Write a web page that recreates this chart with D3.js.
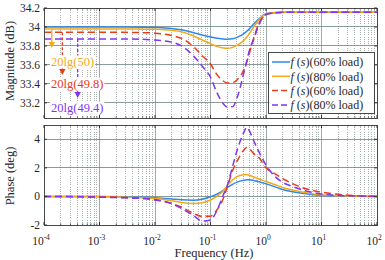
<!DOCTYPE html>
<html><head><meta charset="utf-8">
<script src="https://cdn.jsdelivr.net/npm/d3@7"></script>
<style>
body{margin:0;background:#fff}
svg{display:block}
svg text{font-family:"Times New Roman","Liberation Serif","DejaVu Serif",serif}
</style>
</head><body>
<svg id="c" width="385" height="260"></svg>
<script>
// ---------------- DATA ----------------
const freqs = [0.0001, 0.001, 0.003, 0.006, 0.01, 0.02, 0.03, 0.05, 0.07, 0.1, 0.13, 0.17, 0.2, 0.25, 0.3, 0.4, 0.45, 0.5, 0.6, 0.75, 1, 1.5, 2, 3, 5, 8, 15, 100];

const magBlue60   = [34.0, 34.0, 34.0, 33.998, 33.995, 33.985, 33.97, 33.94, 33.915, 33.895, 33.882, 33.872, 33.87, 33.875, 33.89, 33.93, 33.955, 33.98, 34.03, 34.085, 34.14, 34.152, 34.154, 34.155, 34.155, 34.155, 34.155, 34.155];
const magOrange80 = [33.979, 33.979, 33.979, 33.977, 33.975, 33.965, 33.95, 33.905, 33.865, 33.825, 33.795, 33.778, 33.775, 33.785, 33.805, 33.86, 33.895, 33.93, 34.0, 34.075, 34.135, 34.15, 34.154, 34.155, 34.155, 34.155, 34.155, 34.155];
const magRed60    = [33.944, 33.944, 33.943, 33.94, 33.935, 33.91, 33.88, 33.79, 33.70, 33.61, 33.5, 33.43, 33.41, 33.412, 33.44, 33.55, 33.63, 33.72, 33.88, 34.04, 34.13, 34.15, 34.154, 34.155, 34.155, 34.155, 34.155, 34.155];
const magPurple80 = [33.874, 33.874, 33.873, 33.87, 33.862, 33.84, 33.80, 33.69, 33.59, 33.47, 33.31, 33.19, 33.155, 33.16, 33.25, 33.52, 33.64, 33.75, 33.87, 34.03, 34.13, 34.15, 34.154, 34.155, 34.155, 34.155, 34.155, 34.155];

const phBlue60   = [0, 0, -0.02, -0.05, -0.09, -0.18, -0.24, -0.27, -0.2, -0.02, 0.15, 0.42, 0.62, 0.85, 1.0, 1.13, 1.16, 1.16, 1.12, 1.03, 0.88, 0.65, 0.48, 0.33, 0.2, 0.1, 0.04, 0];
const phOrange80 = [0, -0.02, -0.05, -0.1, -0.15, -0.3, -0.42, -0.5, -0.45, -0.25, 0.0, 0.4, 0.75, 1.15, 1.38, 1.52, 1.54, 1.48, 1.36, 1.22, 1.05, 0.8, 0.63, 0.45, 0.28, 0.15, 0.07, 0];
const phRed60    = [0, -0.03, -0.08, -0.14, -0.22, -0.5, -0.75, -1.2, -1.4, -1.38, -0.95, -0.15, 0.65, 1.8, 2.45, 3.25, 3.42, 3.35, 3.0, 2.7, 2.0, 1.55, 1.25, 0.9, 0.55, 0.37, 0.2, 0];
const phPurple80 = [0, -0.05, -0.1, -0.15, -0.25, -0.5, -0.85, -1.35, -1.72, -1.65, -1.0, 0.1, 0.75, 2.1, 3.2, 4.5, 4.85, 4.6, 3.9, 3.1, 2.2, 1.35, 0.98, 0.7, 0.4, 0.23, 0.1, 0];

const legendLoads = ["60% load", "80% load", "60% load", "80% load"];
const magTicks = [33.2, 33.4, 33.6, 33.8, 34, 34.2];
const magTickLabels = ["33.2", "33.4", "33.6", "33.8", "34", "34.2"];
const phaseTicks = [-2, 0, 2, 4];
const phaseTickLabels = ["-2", "0", "2", "4"];
const decadeTicks = [1e-4, 1e-3, 1e-2, 1e-1, 1e0, 1e1, 1e2];
const decadeExps = ["-4", "-3", "-2", "-1", "0", "1", "2"];
const annLabels = ["20lg(50)", "20lg(49.8)", "20lg(49.4)"];
const annLevels = [33.979, 33.944, 33.874];

// ---------------- STYLE / LAYOUT ----------------
const colors = ["#2f88ea", "#f2ab18", "#e63c1c", "#7f35f2"];
const dashes = [null, null, "7,4", "7,4"];
const L = 44, R = 377;
const svg = d3.select("#c");
const x = d3.scaleLog().domain([1e-4, 1e2]).range([L, R]);
const yMag = d3.scaleLinear().domain([33.04, 34.2]).range([118, 8]);
const yPh = d3.scaleLinear().domain([-2, 5]).range([225, 125]);

const magSeries = [magBlue60, magOrange80, magRed60, magPurple80];
const phSeries = [phBlue60, phOrange80, phRed60, phPurple80];

const minorTicks = x.ticks().filter(t => !decadeTicks.some(d => Math.abs(d - t) / d < 1e-9));

function panel(y, yTicks, yLabels, series, id) {
  const [y0, y1] = y.range();
  const g = svg.append("g");
  g.append("rect").attr("x", L).attr("y", y1).attr("width", R - L).attr("height", y0 - y1).attr("fill", "#fff");
  g.selectAll(".mv").data(minorTicks).join("line")
    .attr("x1", d => x(d)).attr("x2", d => x(d)).attr("y1", y1).attr("y2", y0)
    .attr("stroke", "#3c4a4a").attr("stroke-opacity", 0.55).attr("stroke-width", 0.8)
    .attr("stroke-dasharray", "1,1.2").attr("shape-rendering", "crispEdges");
  g.selectAll(".Mv").data(decadeTicks).join("line")
    .attr("x1", d => x(d)).attr("x2", d => x(d)).attr("y1", y1).attr("y2", y0)
    .attr("stroke", "#637a7a").attr("stroke-opacity", 0.7).attr("stroke-width", 0.9)
    .attr("shape-rendering", "crispEdges");
  g.selectAll(".Mh").data(yTicks).join("line")
    .attr("x1", L).attr("x2", R).attr("y1", d => y(d)).attr("y2", d => y(d))
    .attr("stroke", "#637a7a").attr("stroke-opacity", 0.75).attr("stroke-width", 1)
    .attr("shape-rendering", "crispEdges");
  svg.append("clipPath").attr("id", id).append("rect")
    .attr("x", L).attr("y", y1).attr("width", R - L).attr("height", y0 - y1);
  const line = d3.line().x((d, i) => x(freqs[i])).y(d => y(d)).curve(d3.curveMonotoneX);
  const lg = g.append("g").attr("clip-path", `url(#${id})`);
  series.forEach((s, k) => {
    lg.append("path").attr("d", line(s)).attr("fill", "none")
      .attr("stroke", colors[k]).attr("stroke-width", 1.5)
      .attr("stroke-dasharray", dashes[k]);
  });
  g.append("rect").attr("x", L).attr("y", y1).attr("width", R - L).attr("height", y0 - y1)
    .attr("fill", "none").attr("stroke", "#4a4a4a").attr("stroke-width", 1).attr("shape-rendering", "crispEdges");
  decadeTicks.forEach(d => {
    g.append("line").attr("x1", x(d)).attr("x2", x(d)).attr("y1", y0).attr("y2", y0 - 3).attr("stroke", "#333");
    g.append("line").attr("x1", x(d)).attr("x2", x(d)).attr("y1", y1).attr("y2", y1 + 3).attr("stroke", "#333");
  });
  minorTicks.forEach(d => {
    g.append("line").attr("x1", x(d)).attr("x2", x(d)).attr("y1", y0).attr("y2", y0 - 1.7).attr("stroke", "#333").attr("stroke-width", 0.7);
    g.append("line").attr("x1", x(d)).attr("x2", x(d)).attr("y1", y1).attr("y2", y1 + 1.7).attr("stroke", "#333").attr("stroke-width", 0.7);
  });
  yTicks.forEach(d => {
    g.append("line").attr("x1", L).attr("x2", L + 3).attr("y1", y(d)).attr("y2", y(d)).attr("stroke", "#333");
    g.append("line").attr("x1", R).attr("x2", R - 3).attr("y1", y(d)).attr("y2", y(d)).attr("stroke", "#333");
  });
  g.selectAll(".yl").data(yTicks).join("text")
    .attr("x", L - 4).attr("y", d => y(d)).attr("dy", "0.35em").attr("fill", "#262626")
    .attr("text-anchor", "end").attr("font-size", 11.5).text((d, i) => yLabels[i]);
  return g;
}

panel(yMag, magTicks, magTickLabels, magSeries, "clipMag");
panel(yPh, phaseTicks, phaseTickLabels, phSeries, "clipPh");

decadeTicks.forEach((d, i) => {
  const t = svg.append("text").attr("x", x(d) - 3).attr("y", 245).attr("text-anchor", "middle")
    .attr("font-size", 11.5).attr("fill", "#262626");
  t.append("tspan").text("10");
  t.append("tspan").attr("dy", -5).attr("font-size", 7.5).text(decadeExps[i]);
});

svg.append("text").attr("transform", "translate(14,61) rotate(-90)").attr("text-anchor", "middle")
  .attr("font-size", 12.5).attr("fill", "#262626").text("Magnitude (dB)");
svg.append("text").attr("transform", "translate(14,176) rotate(-90)").attr("text-anchor", "middle")
  .attr("font-size", 12.5).attr("fill", "#262626").text("Phase (deg)");
svg.append("text").attr("x", 214).attr("y", 257).attr("text-anchor", "middle")
  .attr("font-size", 12.5).attr("fill", "#262626").text("Frequency (Hz)");

// annotations: arrows first, then labels with white boxes on top
const annX = [1.38e-4, 2.14e-4, 4.05e-4];
const annTip = [33.778, 33.493, 33.251];
const annTextY = [33.635, 33.4, 33.147];
const annDash = [null, "3,2", "3,2"];
const annColorIdx = [1, 2, 3];
const arrowG = svg.append("g");
const labelG = svg.append("g");
annLabels.forEach((lab, i) => {
  const c = colors[annColorIdx[i]];
  const ax = x(annX[i]);
  const ty = yMag(annTip[i]);
  arrowG.append("line").attr("x1", ax).attr("x2", ax)
    .attr("y1", yMag(annLevels[i])).attr("y2", ty - 5)
    .attr("stroke", c).attr("stroke-width", 1.3).attr("stroke-dasharray", annDash[i]);
  arrowG.append("path").attr("d", `M${ax - 3.2},${ty - 6} L${ax + 3.2},${ty - 6} L${ax},${ty} Z`).attr("fill", c);
  const bg = labelG.append("rect").attr("fill", "#fff");
  const t = labelG.append("text").attr("x", 51).attr("y", yMag(annTextY[i])).attr("dy", "0.35em")
    .attr("font-size", 12.5).attr("fill", c).text(lab);
  const bb = t.node().getBBox();
  bg.attr("x", bb.x - 1).attr("y", bb.y + 0.5).attr("width", bb.width + 2).attr("height", bb.height - 1);
});

// legend
const lx = 268, ly = 52, lw = 106, lh = 61;
const leg = svg.append("g");
leg.append("rect").attr("x", lx).attr("y", ly).attr("width", lw).attr("height", lh)
  .attr("fill", "#fff").attr("stroke", "#333").attr("stroke-width", 0.9).attr("shape-rendering", "crispEdges");
legendLoads.forEach((load, i) => {
  const yy = ly + 10 + i * 14.3;
  leg.append("line").attr("x1", lx + 4).attr("x2", lx + 22).attr("y1", yy).attr("y2", yy)
    .attr("stroke", colors[i]).attr("stroke-width", 1.5).attr("stroke-dasharray", i >= 2 ? "6,3" : null);
  const t = leg.append("text").attr("x", lx + 22.5).attr("y", yy).attr("dy", "0.35em")
    .attr("font-size", 12).attr("fill", "#262626");
  t.append("tspan").attr("font-style", "italic").text("f");
  t.append("tspan").text(" (");
  t.append("tspan").attr("font-style", "italic").text("s");
  t.append("tspan").text(")(" + load + ")");
});
</script>
</body></html>
